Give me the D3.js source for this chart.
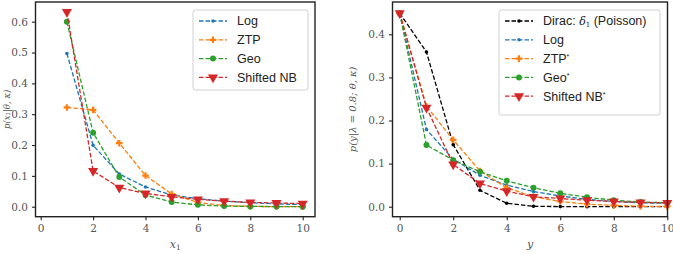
<!DOCTYPE html>
<html>
<head>
<meta charset="utf-8">
<script src="https://cdn.jsdelivr.net/npm/d3@7"></script>
<style>
  html, body { margin: 0; padding: 0; background: #fff; }
  svg { display: block; }
</style>
</head>
<body>
<div id="chart"></div>
<script>
// left panel: x1 = 1..10
const xLeft = [1, 2, 3, 4, 5, 6, 7, 8, 9, 10];
const logLeft = [0.497, 0.199, 0.106, 0.064, 0.038, 0.026, 0.018, 0.013, 0.009, 0.007];
const ztpLeft = [0.322, 0.314, 0.206, 0.101, 0.041, 0.014, 0.004, 0.001, 0.0003, 0.0001];
const geoLeft = [0.600, 0.240, 0.096, 0.038, 0.015, 0.006, 0.002, 0.001, 0.0004, 0.0001];
const nbLeft = [0.632, 0.116, 0.062, 0.043, 0.032, 0.024, 0.018, 0.014, 0.012, 0.010];

// right panel: y = 0..10
const xRight = [0, 1, 2, 3, 4, 5, 6, 7, 8, 9, 10];
const diracRight = [0.449, 0.359, 0.144, 0.038, 0.008, 0.001, 0.0002, 0, 0, 0, 0];
const logRight = [0.449, 0.179, 0.110, 0.073, 0.050, 0.035, 0.025, 0.017, 0.012, 0.009, 0.008];
const ztpRight = [0.449, 0.233, 0.155, 0.083, 0.044, 0.023, 0.012, 0.006, 0.003, 0.001, 0.0005];
const geoRight = [0.449, 0.143, 0.108, 0.081, 0.060, 0.044, 0.031, 0.022, 0.015, 0.011, 0.009];
const nbRight = [0.449, 0.230, 0.098, 0.054, 0.036, 0.023, 0.019, 0.015, 0.012, 0.010, 0.009];

const xTicks = [0, 2, 4, 6, 8, 10];
const yTicksLeft = [0.0, 0.1, 0.2, 0.3, 0.4, 0.5, 0.6];
const yTicksRight = [0.0, 0.1, 0.2, 0.3, 0.4];

const colors = { log: "#1f77b4", ztp: "#ff7f0e", geo: "#2ca02c", nb: "#d62728", dirac: "#000000" };

const width = 673, height = 254;
const svg = d3.select("#chart").append("svg")
    .attr("width", width)
    .attr("height", height)
    .attr("viewBox", [0, 0, width, height]);

const tickFont = "'DejaVu Serif', serif";
const legendFont = "'Liberation Sans', Arial, sans-serif";
const dash = "4.5,2";

function drawMarker(g, kind, color) {
    if (kind === "dot") {
        g.append("circle").attr("r", 1.8).attr("fill", color);
    } else if (kind === "plus") {
        g.append("path").attr("d", d3.symbol(d3.symbolCross, 24)()).attr("fill", color);
    } else if (kind === "circle") {
        g.append("circle").attr("r", 3).attr("fill", color);
    } else if (kind === "tri") {
        g.append("path").attr("d", d3.symbol(d3.symbolTriangle, 44)())
            .attr("transform", "rotate(180)").attr("fill", color);
    }
}

function drawPanel(cfg) {
    const g = svg.append("g");
    const { frame, x, y } = cfg;

    // series
    cfg.series.forEach((s) => {
        const pts = cfg.xs.map((v, i) => [v, s.values[i]]);
        g.append("path")
            .attr("d", d3.line().x((d) => x(d[0])).y((d) => y(d[1]))(pts))
            .attr("fill", "none")
            .attr("stroke", s.color)
            .attr("stroke-width", 1.3)
            .attr("stroke-dasharray", dash);
        g.append("g").selectAll("g")
            .data(pts)
            .join("g")
            .attr("transform", (d) => `translate(${x(d[0])},${y(d[1])})`)
            .each(function () { drawMarker(d3.select(this), s.marker, s.color); });
    });

    // frame
    g.append("rect")
        .attr("x", frame.left).attr("y", frame.top)
        .attr("width", frame.right - frame.left).attr("height", frame.bottom - frame.top)
        .attr("fill", "none").attr("stroke", "#222").attr("stroke-width", 1.4);

    // axes
    const xa = g.append("g")
        .attr("transform", `translate(0,${frame.bottom})`)
        .call(d3.axisBottom(x).tickValues(xTicks).tickSize(3.5).tickPadding(4).tickFormat(d3.format("d")));
    xa.select(".domain").remove();

    const ya = g.append("g")
        .attr("transform", `translate(${frame.left},0)`)
        .call(d3.axisLeft(y).tickValues(cfg.yTicks).tickSize(3.5).tickPadding(4).tickFormat(d3.format(".1f")));
    ya.select(".domain").remove();

    g.selectAll(".tick line").attr("stroke", "#222").attr("stroke-width", 1.1);
    g.selectAll(".tick text")
        .attr("fill", "#555")
        .attr("font-family", tickFont)
        .attr("font-size", 10.5);

    // axis labels
    const xl = g.append("text")
        .attr("x", (frame.left + frame.right) / 2)
        .attr("y", 248)
        .attr("text-anchor", "middle")
        .attr("font-family", tickFont)
        .attr("font-style", "italic")
        .attr("font-size", 11)
        .attr("fill", "#555");
    xl.append("tspan").text(cfg.xLabel);
    if (cfg.xSub) {
        xl.append("tspan").attr("font-size", 7.5).attr("dy", 2).attr("font-style", "normal").text(cfg.xSub);
    }

    g.append("text")
        .attr("transform", `translate(${cfg.yLabelX},${(frame.top + frame.bottom) / 2}) rotate(-90)`)
        .attr("text-anchor", "middle")
        .attr("font-family", tickFont)
        .attr("font-style", "italic")
        .attr("font-size", cfg.yLabelSize)
        .attr("fill", "#555")
        .text(cfg.yLabel);

    // legend
    const lg = g.append("g").attr("transform", `translate(${cfg.legend.x},${cfg.legend.y})`);
    lg.append("rect")
        .attr("width", cfg.legend.w)
        .attr("height", cfg.legend.h)
        .attr("rx", 2.5)
        .attr("fill", "#fff")
        .attr("fill-opacity", 0.85)
        .attr("stroke", "#d0d0d0")
        .attr("stroke-width", 1);
    cfg.series.forEach((s, i) => {
        const ly = 11 + i * 18.8;
        const item = lg.append("g").attr("transform", `translate(0,${ly})`);
        item.append("line")
            .attr("x1", 6).attr("x2", 34)
            .attr("stroke", s.color).attr("stroke-width", 1.3)
            .attr("stroke-dasharray", dash);
        const mk = item.append("g").attr("transform", "translate(20,0)");
        drawMarker(mk, s.marker, s.color);
        const t = item.append("text")
            .attr("x", 44)
            .attr("dy", "0.35em")
            .attr("font-family", legendFont)
            .attr("font-size", 12.5)
            .attr("fill", "#222");
        s.label.forEach((part) => {
            const ts = t.append("tspan").text(part.text);
            if (part.style === "sup") ts.attr("font-size", 7).attr("baseline-shift", "60%");
            if (part.style === "math") ts.attr("font-family", tickFont).attr("font-style", "italic").attr("font-size", 11);
            if (part.style === "sub") ts.attr("font-family", tickFont).attr("font-size", 7).attr("baseline-shift", "-25%");
        });
    });
}

drawPanel({
    frame: { left: 35.5, right: 315, top: 2, bottom: 216.7 },
    x: d3.scaleLinear().domain([0, 10]).range([40.7, 302.7]),
    y: d3.scaleLinear().domain([0, 0.6]).range([206.7, 21.7]),
    xs: xLeft,
    yTicks: yTicksLeft,
    xLabel: "x",
    xSub: "1",
    yLabel: "p(x₁|θ, κ)",
    yLabelX: 9.5,
    yLabelSize: 8.5,
    legend: { x: 193, y: 10, w: 115, h: 80 },
    series: [
        { values: logLeft, color: colors.log, marker: "dot", label: [{ text: "Log" }] },
        { values: ztpLeft, color: colors.ztp, marker: "plus", label: [{ text: "ZTP" }] },
        { values: geoLeft, color: colors.geo, marker: "circle", label: [{ text: "Geo" }] },
        { values: nbLeft, color: colors.nb, marker: "tri", label: [{ text: "Shifted NB" }] }
    ]
});

drawPanel({
    frame: { left: 392.5, right: 667.5, top: 2, bottom: 216.7 },
    x: d3.scaleLinear().domain([0, 10]).range([399.7, 667.3]),
    y: d3.scaleLinear().domain([0, 0.4]).range([206.7, 34.3]),
    xs: xRight,
    yTicks: yTicksRight,
    xLabel: "y",
    yLabel: "p(y|λ = 0.8; θ, κ)",
    yLabelX: 356,
    yLabelSize: 10,
    legend: { x: 499, y: 10, w: 161, h: 105 },
    series: [
        { values: diracRight, color: colors.dirac, marker: "dot", label: [{ text: "Dirac: " }, { text: "δ", style: "math" }, { text: "1", style: "sub" }, { text: " (Poisson)" }] },
        { values: logRight, color: colors.log, marker: "dot", label: [{ text: "Log" }] },
        { values: ztpRight, color: colors.ztp, marker: "plus", label: [{ text: "ZTP" }, { text: "*", style: "sup" }] },
        { values: geoRight, color: colors.geo, marker: "circle", label: [{ text: "Geo" }, { text: "*", style: "sup" }] },
        { values: nbRight, color: colors.nb, marker: "tri", label: [{ text: "Shifted NB" }, { text: "*", style: "sup" }] }
    ]
});
</script>
</body>
</html>
